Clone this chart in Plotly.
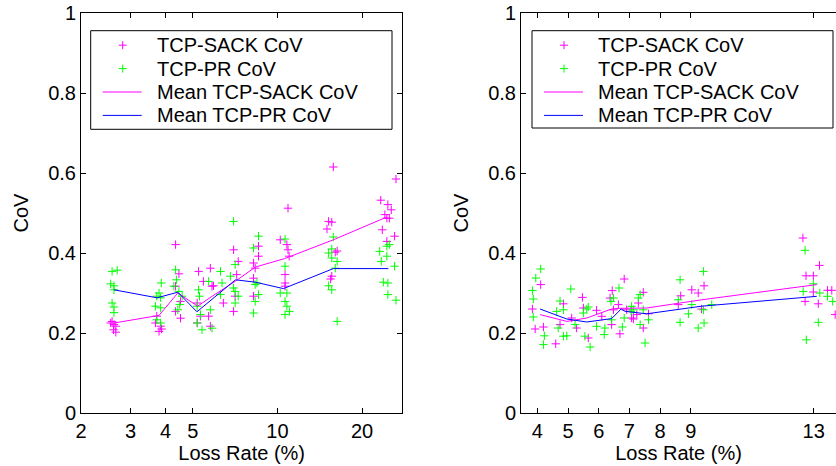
import math
import plotly.graph_objects as go

# ---------------- data ----------------
# Left panel (log x axis)
left_sack_x = [2.58, 2.62, 2.55, 2.66, 2.61, 2.66,
               3.72, 3.84, 3.79, 3.68, 3.87,
               4.34, 4.46, 4.34, 4.52, 4.34, 4.52,
               5.24, 5.18, 5.32, 5.18,
               5.77, 5.85, 5.92, 6.42, 5.69, 5.77, 5.45,
               6.98, 7.25, 7.16, 7.07, 6.98,
               8.56, 8.56, 8.22, 8.33, 8.22, 8.22,
               10.9, 10.23, 10.8, 10.9, 11.0, 10.64, 10.64, 10.64,
               15.8, 15.2, 15.6, 15.0, 16.05, 16.3, 15.6, 15.45,
               26.4, 23.3, 24.7, 25.4, 24.1, 24.5, 25.0, 23.6, 26.1, 24.5]
left_sack_y = [0.229, 0.221, 0.225, 0.217, 0.208, 0.202,
               0.242, 0.217, 0.204, 0.225, 0.210,
               0.421, 0.348, 0.317, 0.279, 0.254, 0.237,
               0.354, 0.275, 0.242, 0.225,
               0.362, 0.317, 0.318, 0.275, 0.242, 0.217, 0.329,
               0.408, 0.379, 0.346, 0.292, 0.254,
               0.417, 0.392, 0.375, 0.362, 0.337, 0.292,
               0.512, 0.433, 0.421, 0.408, 0.392, 0.346, 0.325, 0.317,
               0.615, 0.479, 0.477, 0.460, 0.402, 0.405, 0.342, 0.335,
               0.585, 0.532, 0.521, 0.508, 0.496, 0.487, 0.487, 0.458, 0.442, 0.429]

left_pr_x = [2.58, 2.69, 2.55, 2.62, 2.62, 2.58, 2.62, 2.62,
             3.86, 3.79, 3.72, 3.84, 3.68, 3.84, 3.72, 3.84,
             4.34, 4.37, 4.28, 4.46, 4.58, 4.49, 4.42,
             5.24, 5.28, 5.18, 5.32, 5.18, 5.39,
             6.27, 5.69, 6.35, 6.27, 5.77, 5.85,
             6.80, 6.98, 7.07, 6.98, 7.07, 7.07, 7.25,
             8.56, 8.22, 8.45, 8.33, 8.56, 8.33, 8.22,
             10.64, 10.64, 10.23, 10.8, 10.64, 10.8, 11.03, 10.64,
             15.8, 15.6, 15.2, 15.6, 16.3, 16.05, 15.2, 15.6, 16.3,
             25.0, 24.5, 23.1, 24.5, 23.4, 26.1, 23.8, 24.7, 24.7, 26.4]
left_pr_y = [0.354, 0.357, 0.323, 0.318, 0.308, 0.275, 0.265, 0.251,
             0.325, 0.300, 0.292, 0.288, 0.267, 0.263, 0.233, 0.225,
             0.358, 0.333, 0.317, 0.304, 0.292, 0.271, 0.258,
             0.308, 0.292, 0.267, 0.246, 0.225, 0.208,
             0.354, 0.329, 0.325, 0.296, 0.258, 0.212,
             0.342, 0.479, 0.371, 0.3125, 0.304, 0.275, 0.292,
             0.442, 0.4125, 0.325, 0.321, 0.296, 0.279, 0.250,
             0.435, 0.367, 0.300, 0.300, 0.279, 0.267, 0.254, 0.246,
             0.440, 0.410, 0.400, 0.3875, 0.379, 0.362, 0.318, 0.308, 0.229,
             0.421, 0.417, 0.404, 0.392, 0.379, 0.367, 0.327, 0.325, 0.296, 0.282]

left_mean_sack_x = [2.62, 3.79, 4.42, 5.2, 5.8, 7.1, 8.35, 10.6, 15.8, 24.5]
left_mean_sack_y = [0.225, 0.244, 0.300, 0.267, 0.290, 0.330, 0.365, 0.386, 0.433, 0.490]
left_mean_pr_x = [2.62, 3.73, 4.42, 5.17, 7.09, 8.35, 10.5, 15.8, 24.8]
left_mean_pr_y = [0.308, 0.288, 0.302, 0.253, 0.333, 0.327, 0.311, 0.361, 0.361]

# Right panel (linear x axis)
right_sack_x = [4.11, 5.47, 6.83, 6.44, 3.84, 3.93, 4.20, 4.60, 4.85, 4.74, 5.12, 5.28,
                5.50, 5.66, 5.93, 6.10, 6.37, 6.48, 6.42, 6.69, 6.64, 6.91, 7.07,
                7.45, 7.29, 7.24, 7.62, 7.13, 7.45, 8.67, 8.59, 9.03, 9.24, 9.43, 9.35,
                12.65, 13.19, 12.75, 12.99, 12.99, 12.72, 13.15, 13.45, 13.59, 13.70]
right_sack_y = [0.321, 0.289, 0.335, 0.306, 0.260, 0.210, 0.215, 0.173, 0.273, 0.221, 0.2375, 0.2125,
                0.2625, 0.1875, 0.2567, 0.2417, 0.2875, 0.258, 0.221, 0.198, 0.271, 0.258, 0.2375,
                0.3017, 0.275, 0.246, 0.248, 0.235, 0.2125, 0.293, 0.271, 0.308, 0.300, 0.318, 0.260,
                0.4375, 0.369, 0.343, 0.343, 0.3025, 0.279, 0.273, 0.3067, 0.3067, 0.246]

right_pr_x = [4.11, 3.95, 3.84, 5.09, 6.66, 3.87, 3.87, 4.23, 4.20, 4.74, 4.63, 4.85, 4.68,
              4.85, 4.96, 5.23, 5.50, 5.61, 5.66, 5.55, 5.72, 5.93, 6.20, 6.18, 6.48, 6.40,
              6.42, 6.77, 6.83, 7.05, 7.07, 7.35, 7.29, 7.13, 7.45, 7.62, 7.35, 7.51,
              8.65, 8.59, 8.65, 9.41, 9.03, 8.92, 9.41, 9.68, 9.43, 9.24,
              12.72, 12.99, 12.66, 13.20, 13.45, 13.62, 13.15, 12.76]
right_pr_y = [0.360, 0.3375, 0.306, 0.310, 0.3125, 0.285, 0.240, 0.193, 0.171, 0.280, 0.254, 0.258, 0.2125,
              0.192, 0.193, 0.221, 0.250, 0.260, 0.265, 0.192, 0.165, 0.2167, 0.2125, 0.196, 0.2875, 0.279,
              0.233, 0.215, 0.2375, 0.254, 0.2667, 0.296, 0.2875, 0.258, 0.258, 0.233, 0.221, 0.175,
              0.333, 0.283, 0.2267, 0.354, 0.271, 0.248, 0.258, 0.271, 0.225, 0.2125,
              0.4067, 0.323, 0.304, 0.300, 0.2917, 0.279, 0.2267, 0.183]

right_mean_sack_x = [4.09, 4.96, 5.61, 6.42, 6.69, 7.56, 9.35, 13.1]
right_mean_sack_y = [0.246, 0.229, 0.2375, 0.260, 0.2617, 0.2625, 0.283, 0.321]
right_mean_pr_x = [4.09, 4.96, 5.61, 6.42, 6.73, 6.86, 7.56, 9.35, 13.1]
right_mean_pr_y = [0.260, 0.235, 0.2275, 0.236, 0.260, 0.254, 0.248, 0.267, 0.2917]

left_xticks = [2, 3, 4, 5, 10, 20]
right_xticks = [4, 5, 6, 7, 8, 9, 13]
y_ticks = [0, 0.2, 0.4, 0.6, 0.8, 1]
y_ticktext = ["0", "0.2", "0.4", "0.6", "0.8", "1"]

legend_labels = ["TCP-SACK CoV", "TCP-PR CoV", "Mean TCP-SACK CoV", "Mean TCP-PR CoV"]

# ---------------- styling ----------------
MAG = "#FF00FF"
GRN = "#00FF00"
BLU = "#0000FF"
FONT = "Liberation Sans, Arial, Helvetica, sans-serif"
FS = 20

fig = go.Figure()

def add_panel(xa, ya, sx, sy, px_, py_, msx, msy, mpx, mpy):
    fig.add_trace(go.Scatter(x=sx, y=sy, mode="markers", xaxis=xa, yaxis=ya,
                             marker=dict(symbol="cross-thin", size=6, line=dict(color=MAG, width=1)),
                             name=legend_labels[0], showlegend=False))
    fig.add_trace(go.Scatter(x=px_, y=py_, mode="markers", xaxis=xa, yaxis=ya,
                             marker=dict(symbol="cross-thin", size=6, line=dict(color=GRN, width=1)),
                             name=legend_labels[1], showlegend=False))
    fig.add_trace(go.Scatter(x=msx, y=msy, mode="lines", xaxis=xa, yaxis=ya,
                             line=dict(color=MAG, width=1), name=legend_labels[2], showlegend=False))
    fig.add_trace(go.Scatter(x=mpx, y=mpy, mode="lines", xaxis=xa, yaxis=ya,
                             line=dict(color=BLU, width=1), name=legend_labels[3], showlegend=False))

add_panel("x", "y", left_sack_x, left_sack_y, left_pr_x, left_pr_y,
          left_mean_sack_x, left_mean_sack_y, left_mean_pr_x, left_mean_pr_y)
add_panel("x2", "y2", right_sack_x, right_sack_y, right_pr_x, right_pr_y,
          right_mean_sack_x, right_mean_sack_y, right_mean_pr_x, right_mean_pr_y)

# window-pixel geometry of the plotting area (page body margin is removed below)
L, R, T, B = 81, 836, 13, 413
PW, PH = R - L, B - T
FIG_W, FIG_H = 836, 466

def fx(px):
    return (px - L) / PW

def fy(py):
    return (B - py) / PH

axis_common = dict(showline=True, linecolor="black", linewidth=1, ticks="inside", ticklen=5,
                   tickcolor="black", tickwidth=1, showgrid=False, zeroline=False,
                   ticklabeloverflow="allow",
                   tickfont=dict(family=FONT, size=FS, color="black"))
xaxis_extra = dict(ticklabelstandoff=0,
                   title=dict(text="Loss Rate (%)", font=dict(family=FONT, size=FS), standoff=1))
yaxis_extra = dict(title=dict(text="CoV", font=dict(family=FONT, size=FS), standoff=14))

fig.update_layout(
    width=FIG_W, height=FIG_H,
    margin=dict(l=L, r=FIG_W - R, t=T, b=FIG_H - B, pad=0, autoexpand=False),
    paper_bgcolor="white", plot_bgcolor="white",
    font=dict(family=FONT, size=FS, color="black"),
    showlegend=False,
    xaxis=dict(domain=[0, fx(402.3)], type="log", range=[math.log10(2), math.log10(27.8)],
               tickvals=left_xticks, ticktext=[str(v) for v in left_xticks], mirror="ticks",
               anchor="y", **xaxis_extra, **axis_common),
    yaxis=dict(domain=[0, 1], range=[0, 1], tickvals=y_ticks, ticktext=y_ticktext, mirror="ticks",
               anchor="x", **yaxis_extra, **axis_common),
    xaxis2=dict(domain=[fx(521), 1], range=[3.469, 13.727],
                tickvals=right_xticks, ticktext=[str(v) for v in right_xticks], mirror="ticks",
                anchor="y2", **xaxis_extra, **axis_common),
    yaxis2=dict(domain=[0, 1], range=[0, 1], tickvals=y_ticks, ticktext=y_ticktext, mirror=False,
                anchor="x2", **yaxis_extra, **axis_common),
)

# ---------------- hand-drawn legend boxes (MATLAB style) ----------------
shapes = []
annotations = []
row_off = [14.5, 37.9, 61.3, 84.7]

def add_legend(bx0, by0, bx1, by1):
    shapes.append(dict(type="rect", xref="paper", yref="paper", x0=fx(bx0), x1=fx(bx1),
                       y0=fy(by1), y1=fy(by0), line=dict(color="black", width=1),
                       fillcolor="white", layer="above"))
    mx = bx0 + 32
    for i, col in enumerate([MAG, GRN]):
        my = by0 + row_off[i]
        shapes.append(dict(type="line", xref="paper", yref="paper", x0=fx(mx - 4), x1=fx(mx + 4),
                           y0=fy(my), y1=fy(my), line=dict(color=col, width=1), layer="above"))
        shapes.append(dict(type="line", xref="paper", yref="paper", x0=fx(mx), x1=fx(mx),
                           y0=fy(my - 4), y1=fy(my + 4), line=dict(color=col, width=1), layer="above"))
    for i, col in zip([2, 3], [MAG, BLU]):
        my = by0 + row_off[i]
        shapes.append(dict(type="line", xref="paper", yref="paper", x0=fx(bx0 + 12), x1=fx(bx0 + 51),
                           y0=fy(my), y1=fy(my), line=dict(color=col, width=1), layer="above"))
    for i, lab in enumerate(legend_labels):
        annotations.append(dict(text=lab, xref="paper", yref="paper", x=fx(bx0 + 64),
                                y=fy(by0 + row_off[i]), xanchor="left", yanchor="middle",
                                showarrow=False, font=dict(family=FONT, size=FS, color="black")))

add_legend(90.7, 30.7, 392, 129.3)
add_legend(532, 30.7, 833, 128)

fig.update_layout(shapes=shapes, annotations=annotations)

fig.write_html("out.html", config={"displayModeBar": False},
               post_script="document.body.style.margin='0';document.body.style.overflow='hidden';")
